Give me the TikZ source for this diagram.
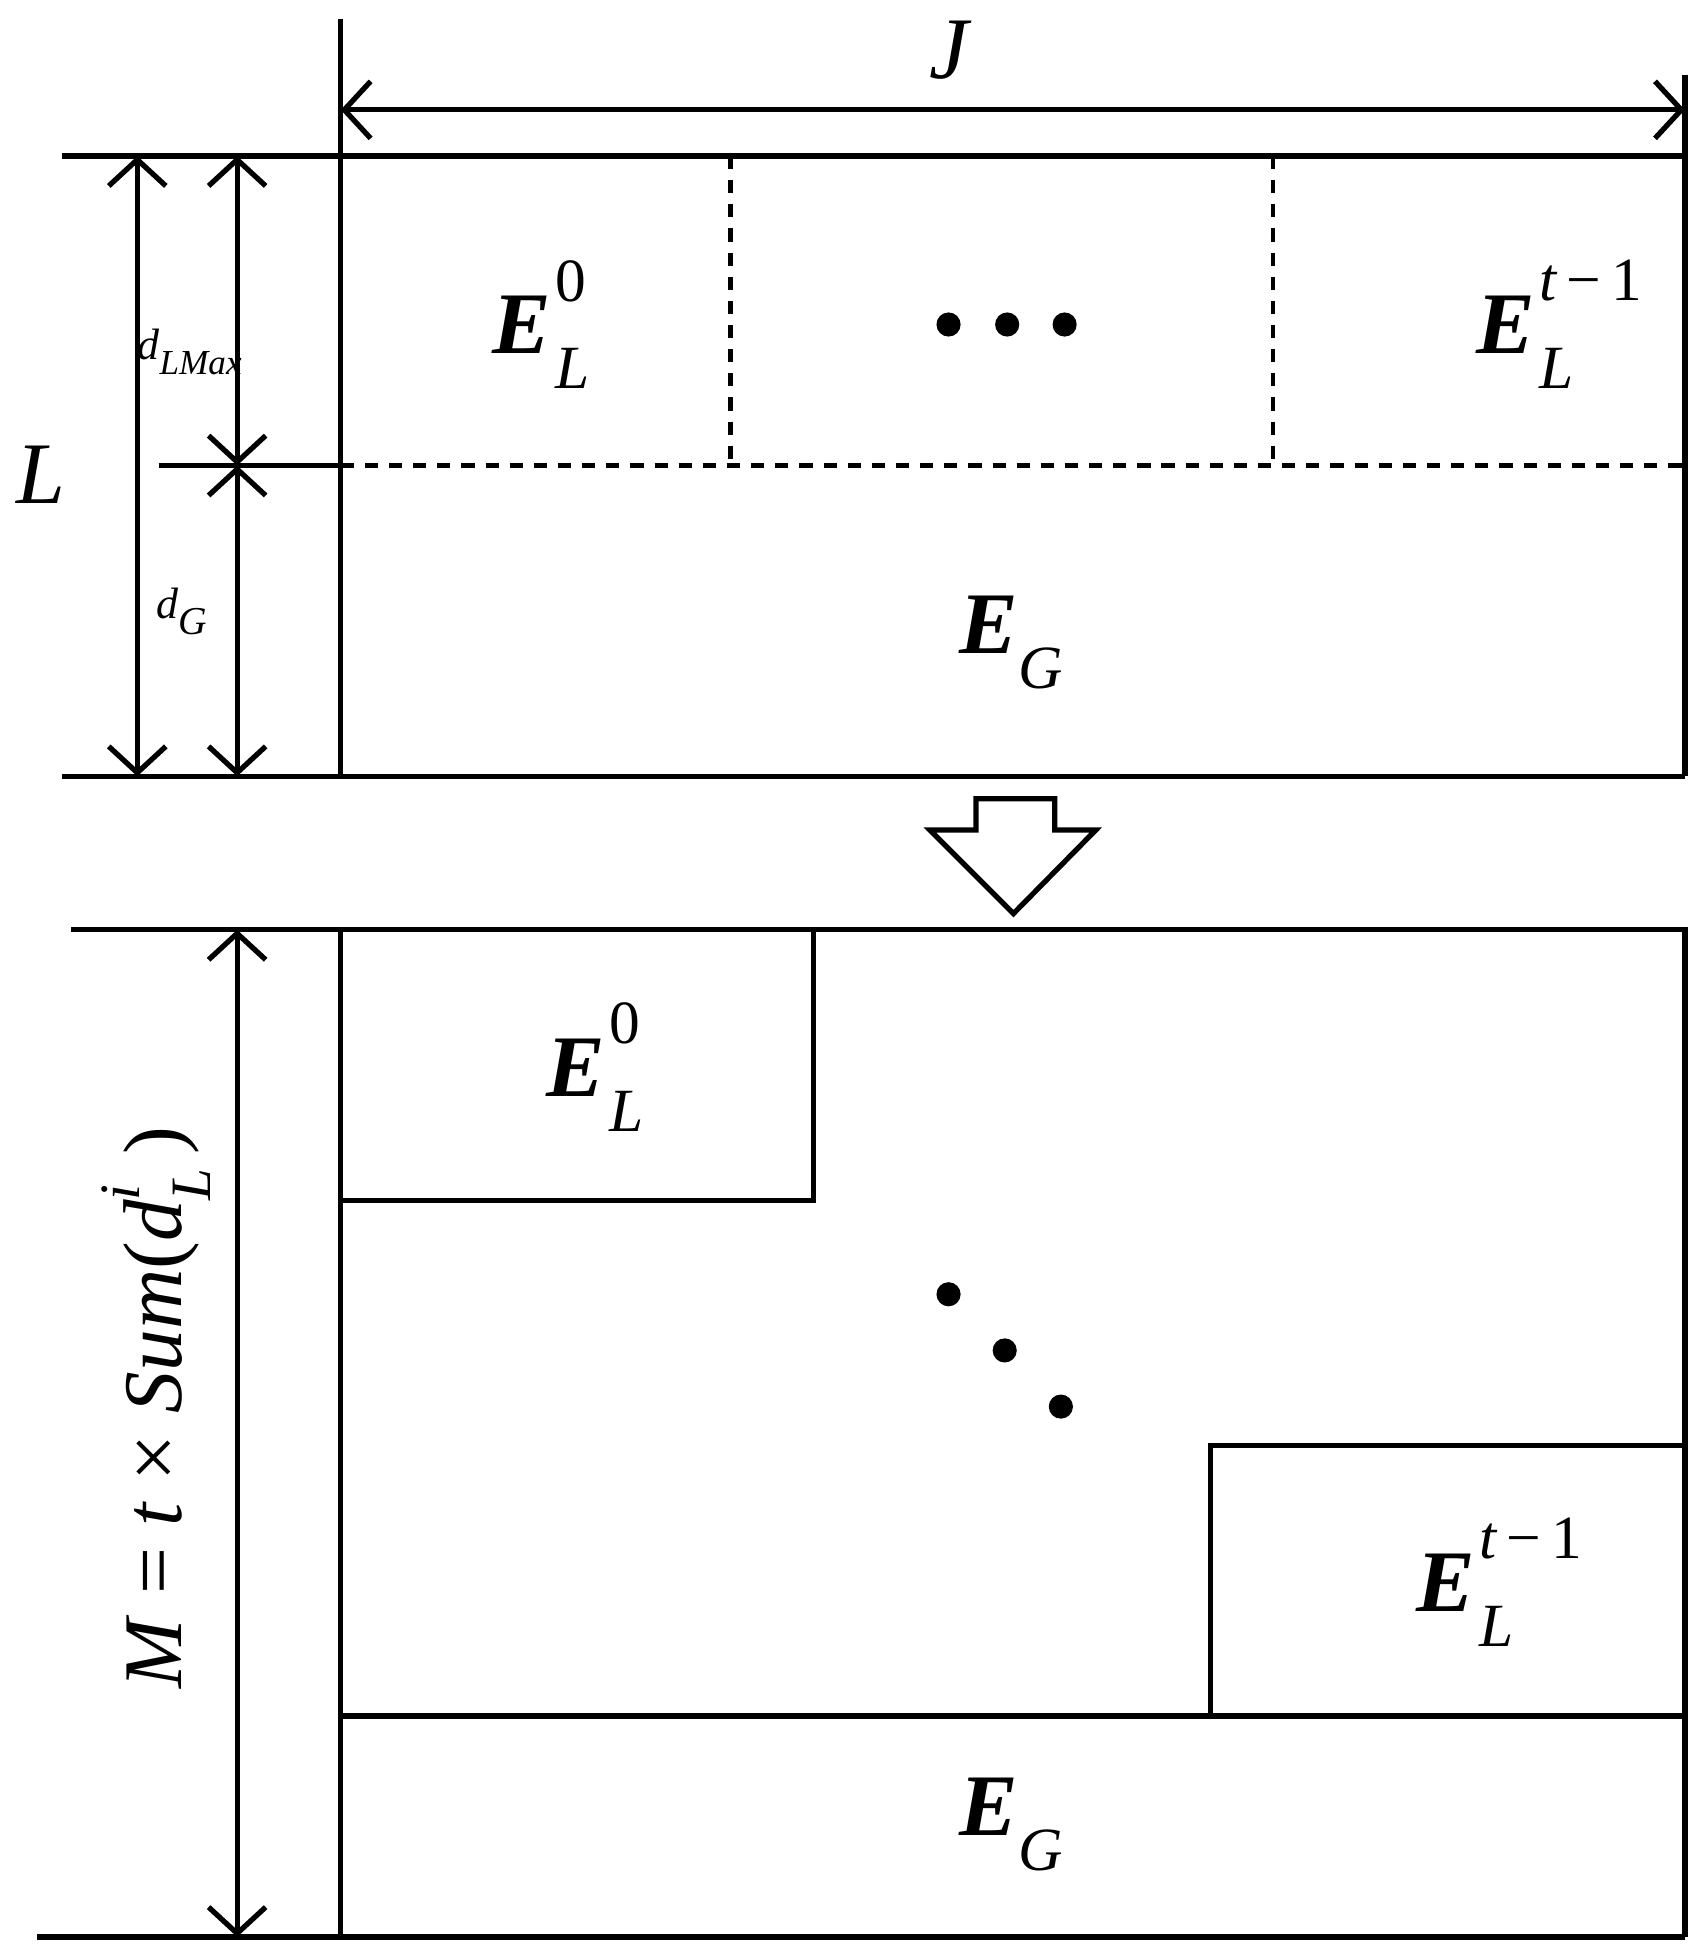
\documentclass[tikz,border=0pt]{standalone}
\usepackage{fontspec}
\setmainfont{Liberation Serif}
\usetikzlibrary{arrows.meta}
\newsavebox{\supbx}\newsavebox{\subbx}
\newcommand{\EE}[2]{\sbox{\supbx}{\fontsize{14}{16}\selectfont #1}\sbox{\subbx}{\fontsize{14}{16}\selectfont\itshape #2}%
\mbox{\bfseries\itshape E}\kern1pt\rlap{\raisebox{0.6em}{\usebox{\supbx}}}\rlap{\raisebox{-0.4em}{\usebox{\subbx}}}%
\ifdim\wd\supbx>\wd\subbx\hspace{\wd\supbx}\else\hspace{\wd\subbx}\fi}
\begin{document}
\begin{tikzpicture}[x=0.01cm,y=-0.01cm,
  ln/.style={line width=1.2pt},
  dim/.style={line width=1.2pt,{Straight Barb[length=6pt,width=13pt,line width=1.2pt]}-{Straight Barb[length=6pt,width=13pt,line width=1.2pt]}},
  dsh/.style={line width=1.1pt,dash pattern=on 3pt off 2.5pt},
  big/.style={font=\fontsize{20}{24}\selectfont},
  dot/.style={circle,fill=black,inner sep=0pt,minimum size=5.5pt}]
\useasboundingbox (0,0) rectangle (1364,1560);
% top
\coordinate (tl) at (273,125); \coordinate (tr) at (1350,125);
\coordinate (bl) at (273,622); \coordinate (br) at (1350,622);
\draw[ln] (273,15) -- (bl);
\draw[ln] (1350,60) -- (br);
\draw[ln] (50,125) -- (tr);
\draw[ln] (50,622) -- (br);
\draw[ln] (127,373) -- (273,373);
\draw[dsh] (273,373) -- (1350,373);
\draw[dsh] (585,125) -- (585,373);
\draw[dsh] (1020,125) -- (1020,373);
\coordinate (ja) at (273,88); \coordinate (jb) at (1350,88);
\draw[dim] (ja) -- (jb);
\coordinate (la) at (110,125); \coordinate (lb) at (110,622);
\draw[dim] (la) -- (lb);
\coordinate (da) at (190,125); \coordinate (dm) at (190,373); \coordinate (db) at (190,622);
\draw[dim] (da) -- (dm);
\draw[dim] (dm) -- (db);
\node[big] (J) at (760,40) {\itshape J};
\node[big] (L) at (33,380) {\itshape L};
\node (dl) at (152,282) {\itshape d\raisebox{-0.35em}{\fontsize{8}{9}\selectfont LMax}};
\node (dg) at (146,490) {\itshape d\raisebox{-0.35em}{\fontsize{9}{10}\selectfont G}};
\node[big] (e0) at (420,260) {\EE{0}{L}};
\node[big] (e1) at (1208,260) {\EE{\itshape t\,\upshape\textminus\,1}{L}};
\node[big] (eg) at (810,515) {\mbox{\bfseries\itshape E}\raisebox{-0.4em}{\fontsize{14}{16}\selectfont\itshape G}};
\node[dot] (d1) at (760,260) {}; \node[dot] (d2) at (807,260) {}; \node[dot] (d3) at (853,260) {};
% block arrow
\draw[line width=1.2pt] (782,640) -- (845,640) -- (845,665) -- (878,665) -- (812,732) -- (745,665) -- (782,665) -- cycle;
% bottom
\draw[ln] (57,745) -- (1350,745) -- (1350,1552);
\draw[ln] (30,1552) -- (1350,1552);
\draw[ln] (273,745) -- (273,1552);
\draw[ln] (273,962) -- (652,962) -- (652,745);
\draw[ln] (970,1375) -- (970,1158) -- (1350,1158);
\draw[ln] (273,1375) -- (1350,1375);
\coordinate (ma) at (190,745); \coordinate (mb) at (190,1552);
\draw[dim] (ma) -- (mb);
\node[big] (b0) at (463,855) {\EE{0}{L}};
\node[big] (b1) at (1160,1268) {\EE{\itshape t\,\upshape\textminus\,1}{L}};
\node[big] (bg) at (810,1462) {\mbox{\bfseries\itshape E}\raisebox{-0.4em}{\fontsize{14}{16}\selectfont\itshape G}};
\node[dot] (e1d) at (760,1037) {}; \node[dot] (e2d) at (805,1082) {}; \node[dot] (e3d) at (850,1127) {};
\node[rotate=90,font=\fontsize{19}{23}\selectfont] (M) at (125,1128) {\itshape M\/ \upshape= \itshape t\/ \upshape× \itshape Sum\/\upshape(\itshape d\rlap{\raisebox{0.5em}{\fontsize{13}{15}\selectfont i}}\raisebox{-0.35em}{\fontsize{13}{15}\selectfont L}\,\upshape)};
\end{tikzpicture}
\end{document}
